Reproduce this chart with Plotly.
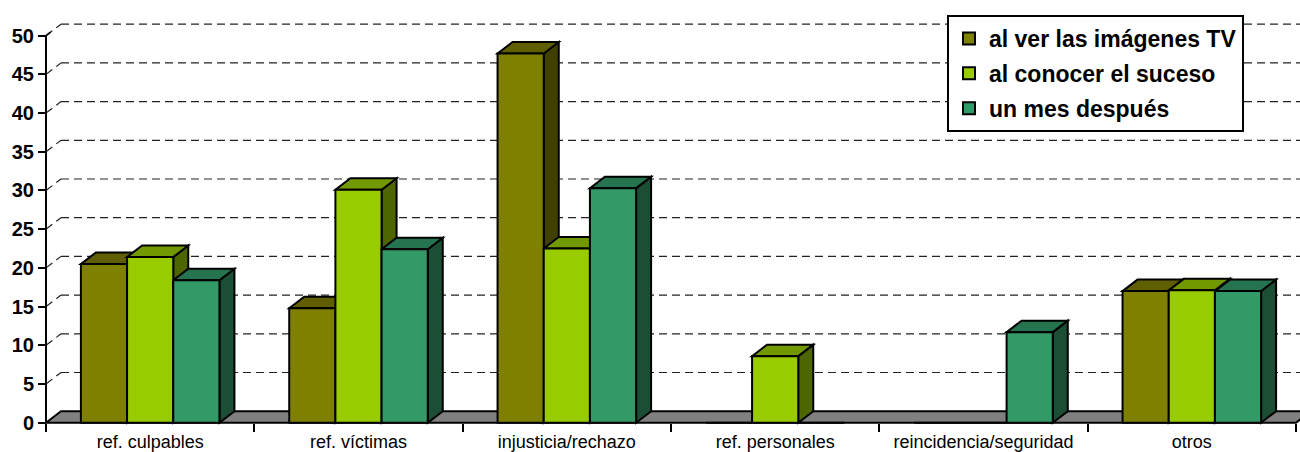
import plotly.graph_objects as go

# ---- data -------------------------------------------------------------
categories = ["ref. culpables", "ref. víctimas", "injusticia/rechazo",
              "ref. personales", "reincidencia/seguridad", "otros"]
series_names = ["al ver las imágenes TV", "al conocer el suceso", "un mes después"]
al_ver_imagenes = [20.5, 14.8, 47.7, 0, 0, 17.0]
al_conocer_suceso = [21.4, 30.1, 22.5, 8.6, 0, 17.1]
un_mes_despues = [18.4, 22.4, 30.3, 0, 11.7, 17.0]
y_ticks = [0, 5, 10, 15, 20, 25, 30, 35, 40, 45, 50]

series_values = [al_ver_imagenes, al_conocer_suceso, un_mes_despues]

# ---- styling ----------------------------------------------------------
front_colors = ["#808000", "#99CC00", "#339966"]
top_colors = ["#5f5f00", "#739900", "#267350"]
side_colors = ["#404000", "#4d6600", "#1c4d35"]
FONT = "Liberation Sans, Arial, sans-serif"

W, H = 1300, 452
M_L, M_R, M_T, M_B = 40, 0, 14, 26
BARGAP = 0.335
BAR_W = (1 - BARGAP) / 3
X_RANGE = [-0.5288, 5.5192]
Y_RANGE = [-0.426, 52.8]
DEPTH_X = 0.072   # receding depth, in category units
DEPTH_Y = 1.486   # receding depth, in value units

fig = go.Figure()
for name, vals, col in zip(series_names, series_values, front_colors):
    fig.add_trace(go.Bar(
        x=categories, y=vals, name=name, legendgroup=name,
        marker=dict(color=col, line=dict(color="black", width=2)),
        hoverinfo="skip",
    ))


def poly(pts):
    return "M " + " L ".join(f"{x:.4f},{y:.4f}" for x, y in pts) + " Z"


shapes = []
x_end = X_RANGE[1] + 0.2

# back-wall gridlines and side-wall diagonals
for v in y_ticks[1:]:
    shapes.append(dict(type="line", xref="x", yref="y", layer="below",
                       x0=-0.5 + DEPTH_X, y0=v + DEPTH_Y, x1=x_end, y1=v + DEPTH_Y,
                       line=dict(color="#222222", width=1.2, dash="8px,5px")))
    shapes.append(dict(type="line", xref="x", yref="y", layer="below",
                       x0=-0.5, y0=v, x1=-0.5 + DEPTH_X, y1=v + DEPTH_Y,
                       line=dict(color="#222222", width=1.2, dash="8px,5px")))

# floor
n = len(categories)
shapes.append(dict(type="path", xref="x", yref="y", layer="below",
                   path=poly([(-0.5, 0), (n - 0.5, 0),
                              (n - 0.5 + DEPTH_X, DEPTH_Y), (-0.5 + DEPTH_X, DEPTH_Y)]),
                   fillcolor="#808080", line=dict(color="black", width=2)))

# value axis line
shapes.append(dict(type="line", xref="x", yref="y", layer="below",
                   x0=-0.5, y0=0, x1=-0.5, y1=y_ticks[-1],
                   line=dict(color="black", width=2)))
shapes.append(dict(type="line", xref="x", yref="y", layer="below",
                   x0=-0.5, y0=y_ticks[-1], x1=-0.5 + DEPTH_X * 0.3,
                   y1=y_ticks[-1] + DEPTH_Y * 0.3,
                   line=dict(color="black", width=1.5)))

# top and side faces of each column
for i in range(n):
    for k, vals in enumerate(series_values):
        v = vals[i]
        if v <= 0:
            continue
        xl = i + (k - 1) * BAR_W - BAR_W / 2
        xr = xl + BAR_W
        shapes.append(dict(type="path", xref="x", yref="y", layer="below",
                           path=poly([(xr, 0), (xr, v), (xr + DEPTH_X, v + DEPTH_Y),
                                      (xr + DEPTH_X, DEPTH_Y)]),
                           fillcolor=side_colors[k], line=dict(color="black", width=2)))
        shapes.append(dict(type="path", xref="x", yref="y", layer="below",
                           path=poly([(xl, v), (xr, v), (xr + DEPTH_X, v + DEPTH_Y),
                                      (xl + DEPTH_X, v + DEPTH_Y)]),
                           fillcolor=top_colors[k], line=dict(color="black", width=2)))

plot_w = W - M_L - M_R
plot_h = H - M_T - M_B
fig.update_layout(
    width=W, height=H,
    margin=dict(l=M_L, r=M_R, t=M_T, b=M_B, pad=0, autoexpand=False),
    paper_bgcolor="white", plot_bgcolor="white",
    barmode="group", bargap=BARGAP, bargroupgap=0,
    shapes=shapes,
    showlegend=True,
    legend=dict(
        x=(947 - M_L) / plot_w, y=1 - (15 - M_T) / plot_h,
        xanchor="left", yanchor="top",
        bgcolor="white", bordercolor="black", borderwidth=2,
        font=dict(family=FONT, size=23, color="black", weight="bold"),
        traceorder="grouped", tracegroupgap=2, itemwidth=30,
    ),
    xaxis=dict(
        type="category", categoryorder="array", categoryarray=categories,
        range=X_RANGE, tickson="boundaries", automargin=False,
        ticks="outside", ticklen=8, tickwidth=2, tickcolor="black",
        ticklabelstandoff=6,
        showline=False, showgrid=False, zeroline=False,
        anchor="free", position=3.3 / plot_h,
        tickfont=dict(family=FONT, size=18, color="black"),
        fixedrange=True,
    ),
    yaxis=dict(
        range=Y_RANGE, tickvals=y_ticks, automargin=False,
        ticks="outside", ticklen=8, tickwidth=2, tickcolor="black",
        showline=False, showgrid=False, zeroline=False,
        anchor="free", position=6 / plot_w,
        tickfont=dict(family=FONT, size=20, color="black", weight="bold"),
        fixedrange=True,
    ),
)

fig.write_html("out.html", config={"displayModeBar": False})
